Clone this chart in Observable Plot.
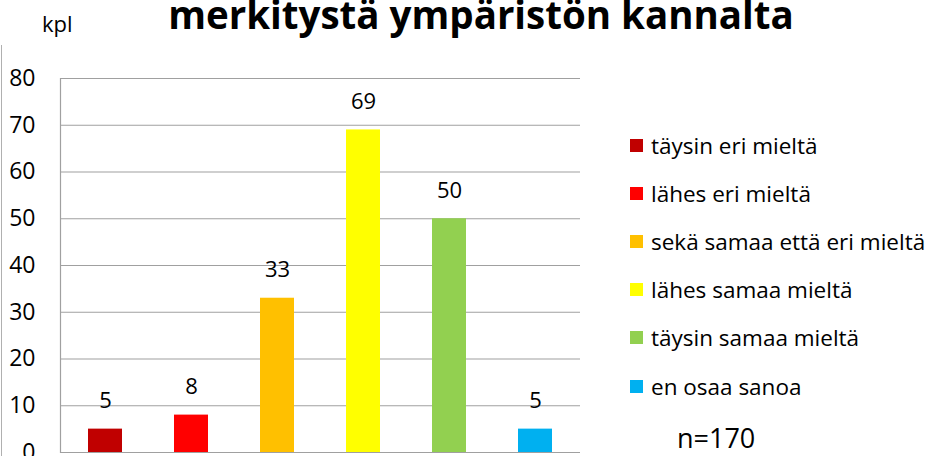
<!DOCTYPE html>
<html>
<head>
<meta charset="utf-8">
<script src="https://cdn.jsdelivr.net/npm/d3@7"></script>
<script src="https://cdn.jsdelivr.net/npm/@observablehq/plot@0.6"></script>
<style>
  html, body { margin: 0; padding: 0; background: #fff; }
  #wrap { position: relative; width: 937px; height: 456px; overflow: hidden; font-family: "Open Sans", sans-serif; color: #000; }
  #wrap svg { position: absolute; left: 0; top: 0; }
  .title { position: absolute; left: 0; width: 962px; text-align: center; top: -12px; font-size: 38.5px; font-weight: bold; white-space: nowrap; line-height: normal; }
  .unit { position: absolute; left: 42px; top: 8px; font-size: 22px; line-height: normal; }
  .legend { position: absolute; left: 630px; top: 121px; font-size: 22.5px; }
  .legend .item { height: 48.2px; display: flex; align-items: center; white-space: nowrap; }
  .legend .sw { width: 13px; height: 13px; margin-right: 8px; flex: none; }
  .note { position: absolute; left: 677px; top: 419px; font-size: 27px; line-height: normal; }
  .border { position: absolute; left: 1px; top: 45px; width: 1px; height: 420px; background: #b0b0b0; }
</style>
</head>
<body>
<div id="wrap"></div>
<script>
const titleText = "merkitystä ympäristön kannalta";
const unitLabel = "kpl";
const noteText = "n=170";
const categories = ["täysin eri mieltä", "lähes eri mieltä", "sekä samaa että eri mieltä", "lähes samaa mieltä", "täysin samaa mieltä", "en osaa sanoa"];
const counts = [5, 8, 33, 69, 50, 5];
const colors = ["#C00000", "#FF0000", "#FFC000", "#FFFF00", "#92D050", "#00B0F0"];
const yTicks = [0, 10, 20, 30, 40, 50, 60, 70, 80];

const data = categories.map((c, i) => ({category: c, value: counts[i]}));

const chart = Plot.plot({
  width: 937,
  height: 456,
  marginLeft: 60,
  marginRight: 357,
  marginTop: 78,
  marginBottom: 4,
  style: {fontFamily: "'Open Sans', sans-serif", fontSize: "23px", color: "#000", background: "transparent"},
  x: {domain: categories, paddingInner: 0.61, paddingOuter: 0.305, axis: null},
  y: {domain: [0, 80], ticks: yTicks, tickSize: 0, tickPadding: 25, label: null},
  color: {domain: categories, range: colors},
  marks: [
    Plot.gridY(yTicks.filter(t => t > 0), {stroke: "#a0a0a0", strokeOpacity: 1, strokeWidth: 1.2}),
    Plot.barY(data, {x: "category", y: "value", fill: "category"}),
    Plot.ruleY([0], {stroke: "#a0a0a0", strokeWidth: 1.2}),
    Plot.frame({anchor: "left", stroke: "#a0a0a0", strokeWidth: 1.2}),
    Plot.text(data, {x: "category", y: "value", text: d => String(d.value), dy: -28, fontSize: 22, fill: "#000"})
  ]
});

const wrap = document.getElementById("wrap");
wrap.appendChild(chart);

const border = document.createElement("div");
border.className = "border";
wrap.appendChild(border);

const title = document.createElement("div");
title.className = "title";
title.textContent = titleText;
wrap.appendChild(title);

const unit = document.createElement("div");
unit.className = "unit";
unit.textContent = unitLabel;
wrap.appendChild(unit);

const legend = document.createElement("div");
legend.className = "legend";
categories.forEach((c, i) => {
  const item = document.createElement("div");
  item.className = "item";
  const sw = document.createElement("span");
  sw.className = "sw";
  sw.style.background = colors[i];
  const lab = document.createElement("span");
  lab.textContent = c;
  item.appendChild(sw);
  item.appendChild(lab);
  legend.appendChild(item);
});
wrap.appendChild(legend);

const note = document.createElement("div");
note.className = "note";
note.textContent = noteText;
wrap.appendChild(note);
</script>
</body>
</html>
